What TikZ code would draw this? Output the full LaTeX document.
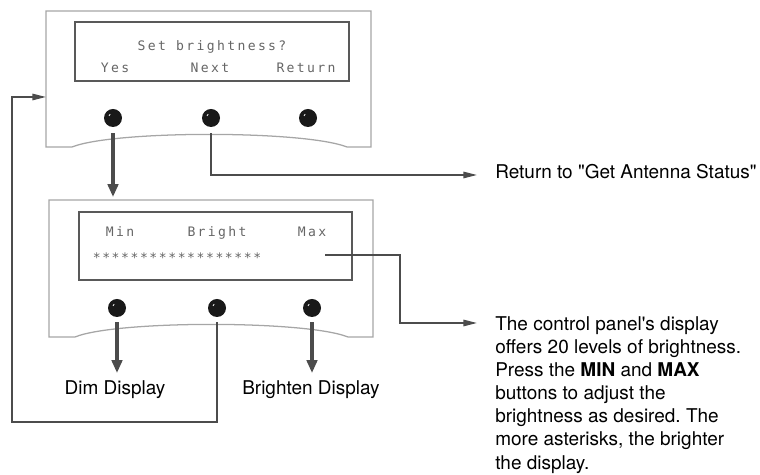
\documentclass[tikz,border=0pt]{standalone}
\usepackage{fontspec}
\setmainfont{TeX Gyre Heros}
\newfontfamily\lcdfont[LetterSpace=18]{DejaVu Sans Mono}
\newfontfamily\lcdstars[LetterSpace=12]{DejaVu Sans Mono}
\usetikzlibrary{positioning, arrows.meta, calc}
\frenchspacing

\begin{document}
\begin{tikzpicture}[font=\fontsize{13.5pt}{16.4pt}\selectfont,
      panel/.style={draw=black!35, line width=0.9pt},
      layar/.style={draw=black!65, line width=2.1pt, fill=white},
      lcd/.style={inner sep=0pt, anchor=base, text=black!60, font=\lcdfont\fontsize{9.3pt}{10pt}\selectfont},
      tombol/.style={circle, fill=black!90, minimum size=0.45cm, inner sep=0pt,
        path picture={\draw[white, line width=0.5pt] ($(path picture bounding box.center)+(-0.1,0.05)$) -- ++(0.03,0.05);}},
      panah/.style={-{Triangle[length=3.2mm, width=2.6mm]}, line width=2.2pt, draw=black!70},
      garis/.style={-{Triangle[length=3.4mm, width=1.6mm]}, line width=1.1pt, draw=black!70},
      ket/.style={inner sep=0pt, align=left}]
      \useasboundingbox (0,0) rectangle (19,11.875);

      % atas: panel set brightness
      \draw[panel] (1.15,11.6) -- (9.275,11.6) -- (9.275,8.2) -- (8.675,8.2)
        .. controls (7.6,8.62) and (2.85,8.62) .. (1.8,8.2) -- (1.15,8.2) -- cycle;
      \draw[layar] (1.875,9.85) rectangle (8.725,11.325);
      \node[lcd] (judul) at (5.3,10.6) {Set brightness?};
      \node[lcd] (yes) at (2.875,10.05) {Yes};
      \node[lcd] (next) at (5.25,10.05) {Next};
      \node[lcd] (ret) at (7.65,10.05) {Return};
      \node[tombol] (b1) at (2.825,8.925) {};
      \node[tombol] (b2) at (5.275,8.925) {};
      \node[tombol] (b3) at (7.7,8.925) {};
      \coordinate (masuk) at (1.15,9.45);

      % bawah: panel min bright max
      \draw[panel] (1.225,6.875) -- (9.325,6.875) -- (9.325,3.45) -- (8.7,3.45)
        .. controls (7.65,3.87) and (2.9,3.87) .. (1.875,3.45) -- (1.225,3.45) -- cycle;
      \draw[layar] (1.975,4.875) rectangle (8.8,6.575);
      \node[lcd] (min) at (3.0,5.96) {Min};
      \node[lcd] (bright) at (5.425,5.96) {Bright};
      \node[lcd] (max) at (7.8,5.96) {Max};
      \node[lcd, font=\lcdstars\fontsize{9.3pt}{10pt}\selectfont] (bintang) at (4.425,5.3) {******************};
      \node[tombol] (c1) at (2.925,4.175) {};
      \node[tombol] (c2) at (5.425,4.175) {};
      \node[tombol] (c3) at (7.8,4.175) {};
      \coordinate (atas2) at (2.825,6.95);
      \coordinate (ujung) at (8.125,5.5);

      % keterangan kanan
      \node[ket, anchor=west] (kembali) at (12.375,7.59) {Return to \textquotedbl Get Antenna Status\textquotedbl};
      \node[ket, anchor=north west] (info) at (12.375,3.96)
        {The control panel\textquotesingle s display\\ offers 20 levels of brightness.\\ Press the \textbf{MIN} and \textbf{MAX}\\ buttons to adjust the\\ brightness as desired. The\\ more asterisks, the brighter\\ the display.};
      \node[ket] (dim) at (2.875,2.125) {Dim Display};
      \node[ket] (terang) at (7.775,2.125) {Brighten Display};

      % panah
      \draw[panah, shorten <=0.15cm] (b1.south) -- (atas2);
      \draw[garis, shorten <=0.15cm] (b2.south) |- (11.925,7.5);
      \draw[garis, shorten <=0.12cm] (c2.south) -- (5.425,1.325) -| (0.3,9.45) -- (masuk);
      \draw[garis] (ujung) -- (10.0,5.5) |- (11.925,3.8);
      \draw[panah, shorten <=0.12cm] (c1.south) -- (2.925,2.55);
      \draw[panah, shorten <=0.12cm] (c3.south) -- (7.8,2.55);
    \end{tikzpicture}
\end{document}
